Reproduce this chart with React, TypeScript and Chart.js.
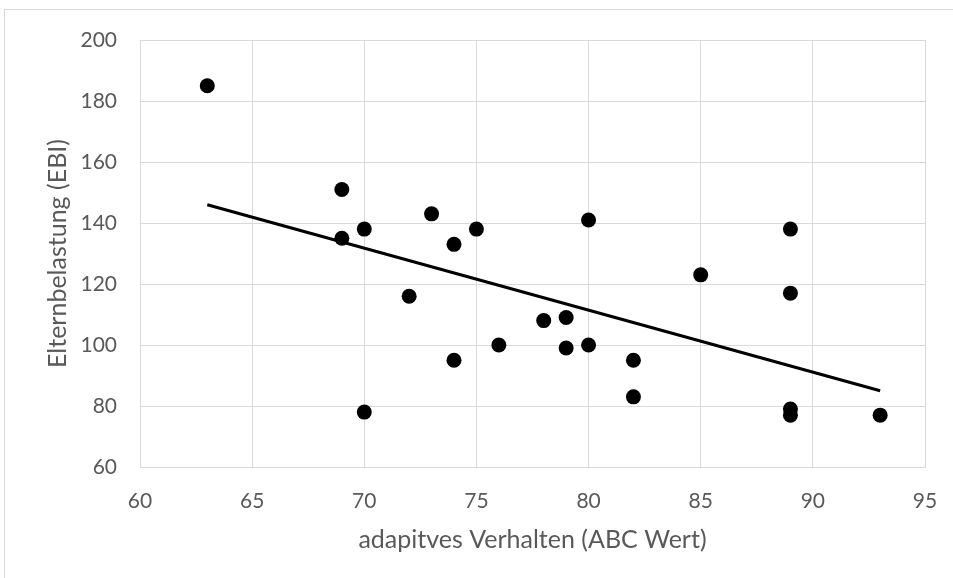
import React, { useEffect, useRef } from "react";
import { Chart, registerables } from "chart.js";

Chart.register(...registerables);

const abcWert = [63, 69, 69, 70, 70, 72, 73, 74, 74, 75, 76, 78, 79, 79, 80, 80, 82, 82, 85, 89, 89, 89, 89, 93];
const ebiWert = [185, 151, 135, 138, 78, 116, 143, 133, 95, 138, 100, 108, 109, 99, 141, 100, 95, 83, 123, 138, 117, 79, 77, 77];
const trendX = [63, 93];
const trendY = [146, 85];
const xTitle = "adapitves Verhalten (ABC Wert)";
const yTitle = "Elternbelastung (EBI)";

const FONT = "Lato";
const TEXT = "#595959";
const GRID = "#d9d9d9";

export default function App() {
  const ref = useRef<HTMLCanvasElement | null>(null);

  useEffect(() => {
    if (!ref.current) return;
    const chart = new Chart(ref.current, {
      type: "scatter",
      data: {
        datasets: [
          {
            type: "line",
            label: "Trend",
            data: trendX.map((x, i) => ({ x, y: trendY[i] })),
            borderColor: "#000000",
            borderWidth: 3,
            pointRadius: 0,
            fill: false,
          } as any,
          {
            label: "Daten",
            data: abcWert.map((x, i) => ({ x, y: ebiWert[i] })),
            backgroundColor: "#000000",
            borderColor: "#000000",
            pointRadius: 7.5,
            pointHoverRadius: 7.5,
            borderWidth: 0,
          },
        ],
      },
      options: {
        responsive: false,
        animation: false,
        layout: { padding: { left: 39, right: 28, top: 40, bottom: 19 } },
        plugins: { legend: { display: false }, tooltip: { enabled: false } },
        scales: {
          x: {
            type: "linear",
            min: 60,
            max: 95,
            ticks: { stepSize: 5, color: TEXT, font: { family: FONT, size: 21 }, padding: 22 },
            grid: { color: GRID, lineWidth: 1, drawTicks: false },
            border: { color: GRID },
            title: { display: true, text: xTitle, color: TEXT, font: { family: FONT, size: 25 }, padding: 4 },
            afterFit: (s: any) => { s.height = 92; s.paddingRight = 0; s.paddingLeft = 0; },
          },
          y: {
            type: "linear",
            min: 60,
            max: 200,
            ticks: { stepSize: 20, color: TEXT, font: { family: FONT, size: 21 }, padding: 23 },
            grid: { color: GRID, lineWidth: 1, drawTicks: false },
            border: { color: GRID },
            title: { display: true, text: yTitle, color: TEXT, font: { family: FONT, size: 25 }, padding: 4 },
            afterFit: (s: any) => { s.width = 101; s.paddingTop = 0; s.paddingBottom = 0; },
          },
        },
      },
    });
    return () => chart.destroy();
  }, []);

  return (
    <div style={{ position: "fixed", left: 0, top: 0, width: 953, height: 578, background: "#fff", overflow: "hidden" }}>
      <div style={{ position: "absolute", left: 4, top: 9, width: 1000, height: 1000, border: "1px solid #d9d9d9", boxSizing: "border-box" }} />
      <canvas ref={ref} width={953} height={578} style={{ position: "absolute", left: 0, top: 0 }} />
    </div>
  );
}
